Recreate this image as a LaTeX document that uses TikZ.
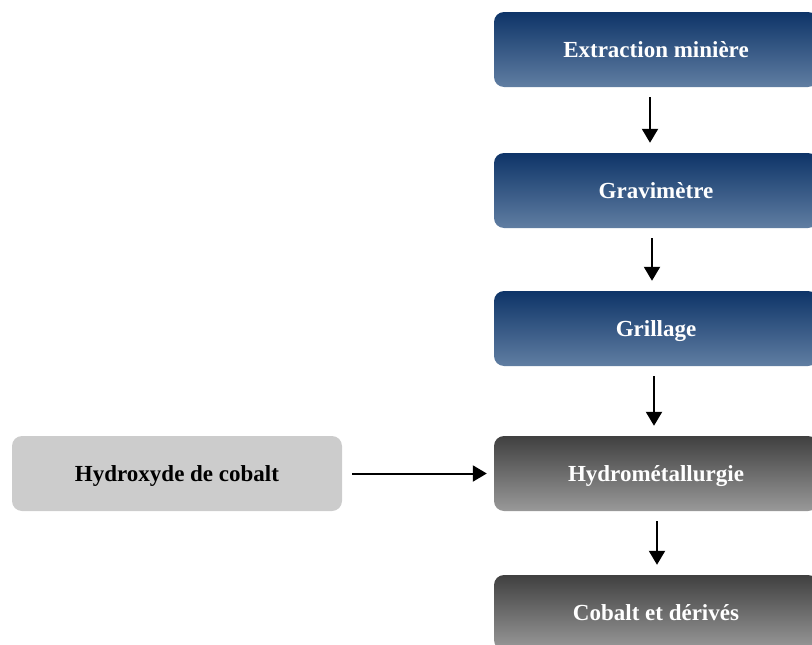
\documentclass[tikz,border=0pt]{standalone}
\usepackage{fontspec}
\setmainfont{Liberation Serif}
\usetikzlibrary{arrows.meta}
\definecolor{bluetop}{HTML}{0E3468}
\definecolor{bluebot}{HTML}{607EA2}
\definecolor{greytop}{HTML}{404040}
\definecolor{greybot}{HTML}{999999}
\definecolor{lightbox}{HTML}{CCCCCC}
\begin{document}
\begin{tikzpicture}[x=1pt, y=-1pt,
	every node/.style={rounded corners=10pt, minimum width=324pt, minimum height=75pt, inner sep=0pt, text depth=-3pt, font=\fontsize{23}{27}\selectfont\bfseries},
	bluebox/.style={top color=bluetop, bottom color=bluebot, text=white},
	greybox/.style={top color=greytop, bottom color=greybot, text=white},
	inbox/.style={fill=lightbox, text=black, minimum width=330pt},
	flow/.style={-{Triangle[length=14pt, width=16pt]}, line width=2pt, shorten <=10pt, shorten >=10pt}]
		\useasboundingbox (0,0) rectangle (812,645);
		\clip (0,0) rectangle (812,645);
		\node [bluebox] (ext) at (656,49.5) {Extraction minière};
		\node [bluebox] (grav) at (656,190.5) {Gravimètre};
		\node [bluebox] (gril) at (656,328.5) {Grillage};
		\node [greybox] (hydro) at (656,473.5) {Hydrométallurgie};
		\node [greybox] (cob) at (656,612.5) {Cobalt et dérivés};
		\node [inbox] (hyd) at (177,473.5) {Hydroxyde de cobalt};
		
		\draw [flow] ([xshift=-6pt]ext.south) -- ([xshift=-6pt]grav.north);
		\draw [flow] ([xshift=-4pt]grav.south) -- ([xshift=-4pt]gril.north);
		\draw [flow] ([xshift=-2pt]gril.south) -- ([xshift=-2pt]hydro.north);
		\draw [flow] ([xshift=1pt]hydro.south) -- ([xshift=1pt]cob.north);
		\draw [flow, shorten >=7pt] (hyd) -- (hydro);
		%\draw (hyd.east) -- (hydro.west);
\end{tikzpicture}
\end{document}
